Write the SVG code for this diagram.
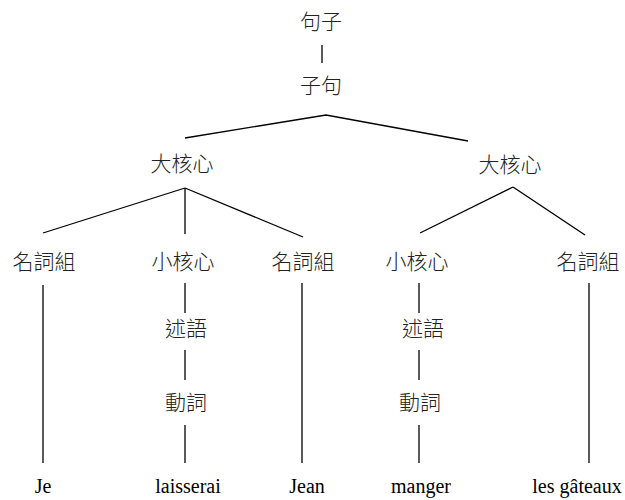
<svg xmlns="http://www.w3.org/2000/svg" width="625" height="500" viewBox="0 0 625 500">
<style>
.zh{font-family:"Noto Sans CJK TC","Noto Sans CJK JP",sans-serif;font-size:21px;font-weight:300;fill:#222;text-anchor:middle}
.fr{font-family:"Liberation Serif","Times New Roman",serif;font-size:20px;fill:#000;text-anchor:middle}
.ln{stroke:#000;stroke-width:1.3;fill:none}
</style>
<rect width="625" height="500" fill="#fff"/>
<g id="connectors" class="ln">
<line x1="322" y1="45" x2="322" y2="63"/>
<polyline points="185,138 326,115 468,141"/>
<line x1="185" y1="188" x2="43" y2="233"/>
<line x1="185" y1="188" x2="185" y2="234"/>
<line x1="185" y1="188" x2="303" y2="237"/>
<line x1="513" y1="187" x2="420" y2="233"/>
<line x1="513" y1="187" x2="585" y2="235"/>
<line x1="43" y1="285" x2="43" y2="463"/>
<line x1="185" y1="283" x2="185" y2="313"/>
<line x1="185" y1="350" x2="185" y2="380"/>
<line x1="185" y1="425" x2="185" y2="463"/>
<line x1="302" y1="283" x2="302" y2="463"/>
<line x1="419" y1="283" x2="419" y2="313"/>
<line x1="419" y1="350" x2="419" y2="380"/>
<line x1="419" y1="425" x2="419" y2="463"/>
<line x1="589" y1="283" x2="589" y2="463"/>
</g>
<g id="n-juzi"><text class="zh" x="321" y="29">句子</text></g>
<g id="n-ziju"><text class="zh" x="321" y="93">子句</text></g>
<g id="n-dahexin1"><text class="zh" x="182" y="171">大核心</text></g>
<g id="n-dahexin2"><text class="zh" x="510" y="172">大核心</text></g>
<g id="n-np1"><text class="zh" x="44" y="269">名詞組</text></g>
<g id="n-xiaohexin1"><text class="zh" x="183" y="269">小核心</text></g>
<g id="n-np2"><text class="zh" x="303" y="269">名詞組</text></g>
<g id="n-xiaohexin2"><text class="zh" x="417" y="269">小核心</text></g>
<g id="n-np3"><text class="zh" x="588" y="269">名詞組</text></g>
<g id="n-shuyu1"><text class="zh" x="186" y="336">述語</text></g>
<g id="n-shuyu2"><text class="zh" x="423" y="336">述語</text></g>
<g id="n-dongci1"><text class="zh" x="186" y="410">動詞</text></g>
<g id="n-dongci2"><text class="zh" x="420" y="410">動詞</text></g>
<g id="w-je"><text class="fr" x="43" y="493">Je</text></g>
<g id="w-laisserai"><text class="fr" x="188" y="493">laisserai</text></g>
<g id="w-jean"><text class="fr" x="307" y="493">Jean</text></g>
<g id="w-manger"><text class="fr" x="421" y="493">manger</text></g>
<g id="w-gateaux"><text class="fr" x="577" y="493">les gâteaux</text></g>
</svg>
